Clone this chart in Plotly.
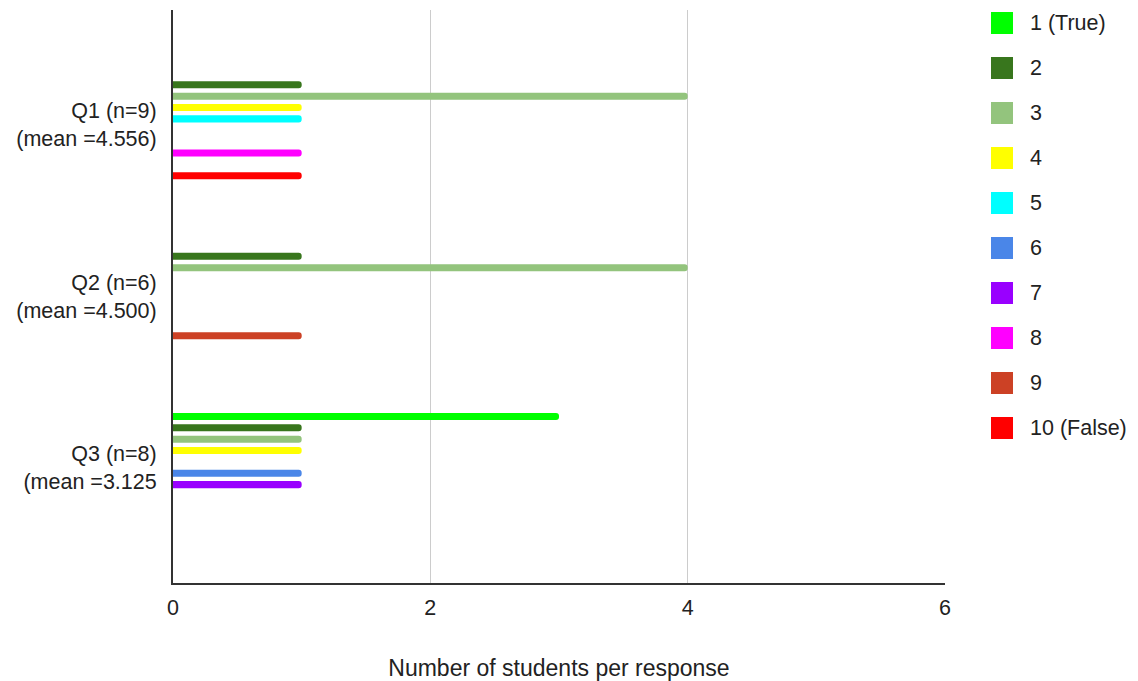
import plotly.graph_objects as go

# Questions (y categories) with their tick labels
questions = ["Q1", "Q2", "Q3"]
question_labels = [
    "Q1 (n=9)<br>(mean =4.556)",
    "Q2 (n=6)<br>(mean =4.500)",
    "Q3 (n=8)<br>(mean =3.125",
]

# Response options (series) and their colours
responses = ["1 (True)", "2", "3", "4", "5", "6", "7", "8", "9", "10 (False)"]
colors = ["#00ff00", "#38761d", "#93c47d", "#ffff00", "#00ffff",
          "#4a86e8", "#9900ff", "#ff00ff", "#cc4125", "#ff0000"]

# Number of students choosing each response, per question (Q1, Q2, Q3)
resp_1 = [0, 0, 3]
resp_2 = [1, 1, 1]
resp_3 = [4, 4, 1]
resp_4 = [1, 0, 1]
resp_5 = [1, 0, 0]
resp_6 = [0, 0, 1]
resp_7 = [0, 0, 1]
resp_8 = [1, 0, 0]
resp_9 = [0, 1, 0]
resp_10 = [1, 0, 0]
series = [resp_1, resp_2, resp_3, resp_4, resp_5,
          resp_6, resp_7, resp_8, resp_9, resp_10]

x_ticks = [0, 2, 4, 6]

FONT = "Liberation Sans, Arial, sans-serif"
TEXT = "#222222"
FS = 21.5

fig = go.Figure()
for name, color, vals in zip(responses, colors, series):
    fig.add_trace(go.Bar(
        y=questions, x=vals, name=name, orientation="h",
        marker=dict(color=color, line=dict(width=0)),
        showlegend=False,
    ))

# Legend drawn as square swatches with labels on the right
leg_top, leg_step, sw = 23, 45, 22
shapes = []
annotations = []
for i, (name, color) in enumerate(zip(responses, colors)):
    cy = leg_top + i * leg_step
    shapes.append(dict(
        type="rect", xref="paper", yref="paper",
        x0=(991 - 173) / 772, x1=(1013 - 173) / 772,
        y0=(583 - (cy + sw / 2)) / 573, y1=(583 - (cy - sw / 2)) / 573,
        fillcolor=color, line=dict(width=0), layer="above",
    ))
    annotations.append(dict(
        xref="paper", yref="paper",
        x=(1028 - 173) / 772, y=(583 - cy) / 573,
        text=name, showarrow=False, xanchor="left", yanchor="middle",
        font=dict(family=FONT, size=FS, color=TEXT),
    ))

fig.update_layout(
    width=1138, height=681,
    margin=dict(l=173, r=193, t=10, b=98, autoexpand=False),
    paper_bgcolor="white", plot_bgcolor="white",
    barmode="group", bargap=0.338, bargroupgap=0.38,
    barcornerradius=3.5,
    font=dict(family=FONT, size=FS, color=TEXT),
    shapes=shapes, annotations=annotations,
    showlegend=False,
    xaxis=dict(
        range=[0, 6], tickvals=x_ticks, ticktext=[str(v) for v in x_ticks],
        showgrid=True, gridcolor="#cccccc", gridwidth=1,
        zeroline=False, showline=True, linecolor="#333333", linewidth=2,
        ticks="", ticklabelstandoff=4, automargin=False,
        tickfont=dict(family=FONT, size=FS, color=TEXT),
        title=dict(text="Number of students per response", standoff=41,
                   font=dict(family=FONT, size=23, color=TEXT)),
    ),
    yaxis=dict(
        type="category", range=[2.673, -0.668],
        tickvals=questions, ticktext=question_labels,
        showgrid=False, zeroline=False,
        showline=True, linecolor="#333333", linewidth=2,
        ticks="", ticklabelstandoff=10, automargin=False,
        tickfont=dict(family=FONT, size=FS, color=TEXT),
    ),
)

fig.write_html("out.html")
